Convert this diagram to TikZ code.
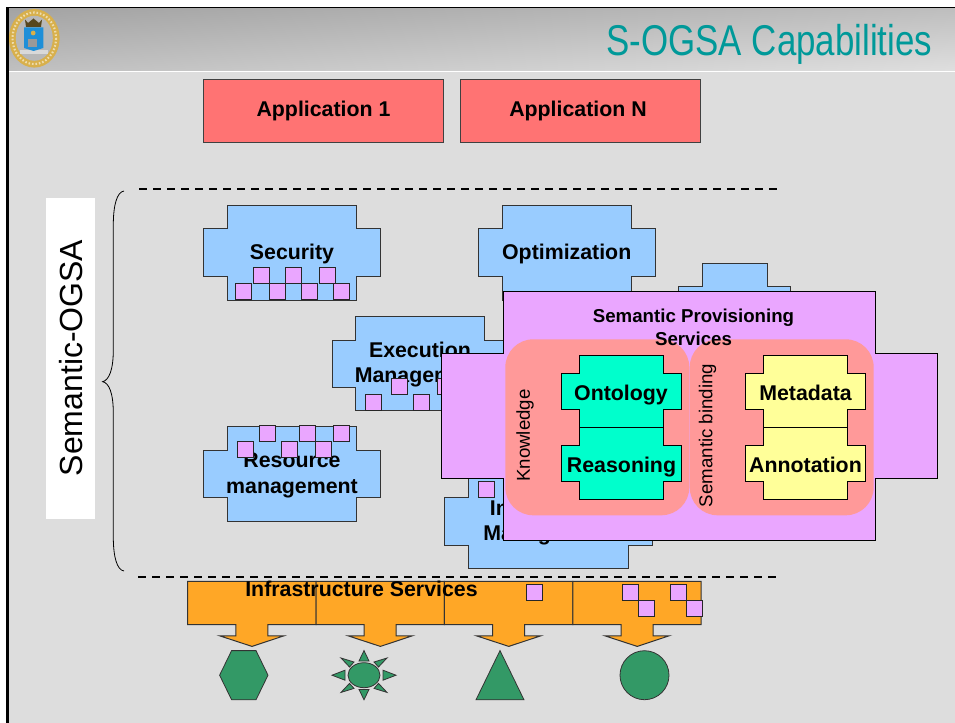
\documentclass[tikz,border=0pt]{standalone}
\usepackage{fontspec}
\setmainfont{Liberation Sans}
\definecolor{bodygray}{HTML}{DDDDDD}
\definecolor{appred}{HTML}{FF7373}
\definecolor{capblue}{HTML}{99CCFF}
\definecolor{semviolet}{HTML}{EAA6FF}
\definecolor{salmon}{HTML}{FF9999}
\definecolor{teal2}{HTML}{00FFCC}
\definecolor{paleyellow}{HTML}{FFFF99}
\definecolor{infraorange}{HTML}{FFA726}
\definecolor{resgreen}{HTML}{339966}
\definecolor{titleteal}{HTML}{009999}
\definecolor{sealgold}{HTML}{D8B04C}
\definecolor{sealblue}{HTML}{1E8FD8}
\newcommand{\plusbox}[9]{%
  \draw[#1] (#3,#6) -- (#4,#6) -- (#4,#7) -- (#5,#7) -- (#5,#8) -- (#4,#8) -- (#4,#9)
    -- (#3,#9) -- (#3,#8) -- (#2,#8) -- (#2,#7) -- (#3,#7) -- cycle;}
\tikzset{
  cap16/.style={font=\fontsize{16}{19.2}\selectfont\bfseries,align=center,inner sep=0pt,text=black},
  cap14/.style={font=\fontsize{14}{16.8}\selectfont\bfseries,align=center,inner sep=0pt,text=black},
  side14/.style={font=\fontsize{14}{16.8}\selectfont,inner sep=0pt,rotate=90,text=black},
  bluebox/.style={fill=capblue,draw=black!80,line width=0.75pt},
  violetbox/.style={fill=semviolet,draw=black,line width=0.75pt},
  tealbox/.style={fill=teal2,draw=black,line width=0.75pt},
  yellowbox/.style={fill=paleyellow,draw=black,line width=0.75pt},
  appbox/.style={fill=appred,draw=black!75,line width=0.75pt},
  pinksq/.style={fill=semviolet,draw=black!85,line width=0.75pt},
  orangebox/.style={fill=infraorange,draw=black!80,line width=0.75pt},
  greenshape/.style={fill=resgreen,draw=black!80,line width=0.6pt},
  salmonzone/.style={fill=salmon,rounded corners=21pt},
  dashrule/.style={draw=black,line width=1.5pt,dash pattern=on 6.2pt off 4.3pt},
}
\begin{document}
\begin{tikzpicture}[x=0.75pt,y=-0.75pt,line join=miter]
\useasboundingbox (0,0) rectangle (955,723);
% page and frame
\fill[white] (0,0) rectangle (955,723);
\fill[black] (6,7) rectangle (955,723);
\fill[bodygray] (9,9) rectangle (955,723);
% header gradient
\foreach \r in {0,...,61}{
  \pgfmathsetmacro{\la}{64+11*\r/61}
  \pgfmathsetmacro{\ra}{74.5+12.5*\r/61}
  \shade[left color=white!\la!black,right color=white!\ra!black]
    (9,9+\r) rectangle (955,10.5+\r);
}
\fill[white] (9,70.6) rectangle (955,71.6);
\fill[bodygray] (9,71.6) rectangle (955,74);
% seal
\fill[sealgold] (34.3,38.3) ellipse [x radius=25.3,y radius=29.3];
\draw[white!55!sealgold,line width=1.6pt,dash pattern=on 1.2pt off 1.4pt] (34.3,38.3) ellipse [x radius=21.8,y radius=25.8];
\fill[white!72!black] (34.3,38.3) ellipse [x radius=18.5,y radius=22.5];
\fill[white!85!black] (20,50) rectangle (48,54);
\fill[sealblue] (24,27.5) -- (43.3,27.5) -- (43.3,48) -- (33.6,51) -- (24,48) -- cycle;
\fill[black!60!sealgold] (25,19.5) -- (28,23) -- (33.5,18.5) -- (39,23) -- (42,19.5) -- (41,27) -- (26,27) -- cycle;
\fill[sealgold] (33.2,33) circle (2.4);
\fill[white!60!black] (28,39.5) rectangle (37,47);
% title
\node (title) at (769.3,44) [font=\fontsize{32.3}{36}\selectfont,text=titleteal,xscale=0.81,inner sep=0pt] {S-OGSA Capabilities};
% applications
\node (app1) at (323.7,110.7) [appbox,minimum width=180pt,minimum height=47.3pt,inner sep=0pt] {};
\node (appn) at (580.3,110.7) [appbox,minimum width=180pt,minimum height=47.3pt,inner sep=0pt] {};
\node (app1t) at (323.5,111) [cap16] {Application 1};
\node (appnt) at (578,111) [cap16] {Application N};
% side label
\fill[white] (46,198) rectangle (95,519);
\node (sogsa) at (71,358) [font=\fontsize{24}{28}\selectfont,rotate=90,inner sep=0pt,text=black] {Semantic-OGSA};
% brace
\draw[black,line width=0.6pt] (124,191) .. controls (117,192) and (113.3,205) .. (113.3,225) -- (113.3,350)
  .. controls (113.3,370) and (109,380) .. (102.7,381.7)
  .. controls (109,383) and (113.3,393) .. (113.3,413) -- (113.3,537)
  .. controls (113.3,557) and (117,570) .. (124,571);
% dashed rules
\coordinate (d1a) at (139,189.5); \coordinate (d1b) at (778,189.5);
\coordinate (d2a) at (138,577); \coordinate (d2b) at (777,577);
\draw[dashrule] (d1a) -- (d1b);
\draw[dashrule] (d2a) -- (d2b);
% blue capability shapes
\plusbox{bluebox}{203.4}{227.3}{356.3}{380.3}{205.4}{229}{276.3}{300.3}
\node (security) at (292,254) [cap16] {Security};
\foreach \x/\y in {253.4/267.3,285.7/267.3,319.7/267.3,235.4/283.3,269.6/283.3,301.7/283.3,333.7/283.3}
  \draw[pinksq] (\x,\y) rectangle ++(16,16);
\plusbox{bluebox}{478.3}{502.3}{631.5}{655}{205.4}{229}{276.3}{300.3}
\node (optim) at (566.7,254) [cap16] {Optimization};
\plusbox{bluebox}{678.3}{702}{767}{790.7}{263.3}{286.7}{320}{340}
\plusbox{bluebox}{332}{355.7}{484.7}{508.4}{316}{340}{387}{410.7}
\node (exec) at (420,364.5) [cap16] {Execution\\Management};
\foreach \x/\y in {391.7/378.3,365.3/394,413.7/394,437.3/378.3}
  \draw[pinksq] (\x,\y) rectangle ++(16,16);
\plusbox{bluebox}{203.4}{227.3}{356.3}{380.3}{426.3}{450.3}{497.7}{521.7}
\node (resource) at (292,475.5) [cap16] {Resource\\management};
\foreach \x/\y in {259.3/425.3,299.3/425.3,333.3/425.3,237.3/441.3,281.3/441.3,315.7/441.3}
  \draw[pinksq] (\x,\y) rectangle ++(16,16);
\plusbox{bluebox}{444.3}{468}{628.7}{652.7}{473.7}{497.7}{545}{568.7}
\node (infoman) at (548.5,522.5) [cap16] {Information\\Management};
\draw[pinksq] (478.3,481) rectangle ++(16,16);
% semantic provisioning
\plusbox{violetbox}{441.3}{503.7}{875.3}{937.3}{291.7}{353.7}{478.3}{540.3}
\fill[salmonzone] (505.3,339.3) rectangle (689.3,515.3);
\fill[salmonzone] (689.7,339.3) rectangle (873.7,515.3);
\node (semprov) at (693.5,327.3) [cap14] {Semantic Provisioning\\Services};
\node (knowledge) at (525,435.5) [side14] {Knowledge};
\node (binding) at (707.5,435.5) [side14] {Semantic binding};
\plusbox{tealbox}{561.3}{579.3}{663.3}{681.7}{355.3}{373.3}{409.3}{427.3}
\plusbox{tealbox}{561.3}{579.3}{663.3}{681.7}{427.3}{445.3}{481.3}{499.3}
\plusbox{yellowbox}{745.3}{763.3}{847.7}{865.7}{355.3}{373.3}{409.3}{427.3}
\plusbox{yellowbox}{745.3}{763.3}{847.7}{865.7}{427.3}{445.3}{481.3}{499.3}
\node (ontology) at (621,395) [cap16] {Ontology};
\node (reasoning) at (621.5,467) [cap16] {Reasoning};
\node (metadata) at (805.5,393) [cap16] {Metadata};
\node (annotation) at (805.5,465) [cap16] {Annotation};
% infrastructure
\foreach \i in {0,1,2,3}{
  \begin{scope}[xshift=\i*128.4*0.75pt]
    \draw[orangebox] (187.6,581.3) -- (316,581.3) -- (316,624.7) -- (267.8,624.7) -- (267.8,635.8)
      -- (284,635.8) -- (252,646.4) -- (219.6,635.8) -- (235.8,635.8) -- (235.8,624.7)
      -- (187.6,624.7) -- cycle;
  \end{scope}
}
\node (infra) at (361.5,589) [cap16] {Infrastructure Services};
\foreach \x/\y in {526/584,622/584,638/600,670/584,686.5/600}
  \draw[pinksq] (\x,\y) rectangle ++(16,16);
% resources
\draw[greenshape] (231.6,650.6) -- (256,650.6) -- (268,675.2) -- (256,699.8) -- (231.6,699.8) -- (219.6,675.2) -- cycle;
\draw[greenshape] (364,675.2) ellipse [x radius=16,y radius=12.5];
\draw[greenshape] (364,650.6) -- (369,661) -- (359,661) -- cycle;
\draw[greenshape] (364,699.8) -- (369,689.4) -- (359,689.4) -- cycle;
\draw[greenshape] (332,675.2) -- (345,670.2) -- (345,680.2) -- cycle;
\draw[greenshape] (396,675.2) -- (383,670.2) -- (383,680.2) -- cycle;
\draw[greenshape] (341,658) -- (354,662) -- (349.5,667) -- cycle;
\draw[greenshape] (387,658) -- (374,662) -- (378.5,667) -- cycle;
\draw[greenshape] (341,692.4) -- (354,688.4) -- (349.5,683.4) -- cycle;
\draw[greenshape] (387,692.4) -- (374,688.4) -- (378.5,683.4) -- cycle;
\draw[greenshape] (476,699.8) -- (500,650.6) -- (524,699.8) -- cycle;
\draw[greenshape] (644.5,675.2) circle (24.5);
\end{tikzpicture}
\end{document}
